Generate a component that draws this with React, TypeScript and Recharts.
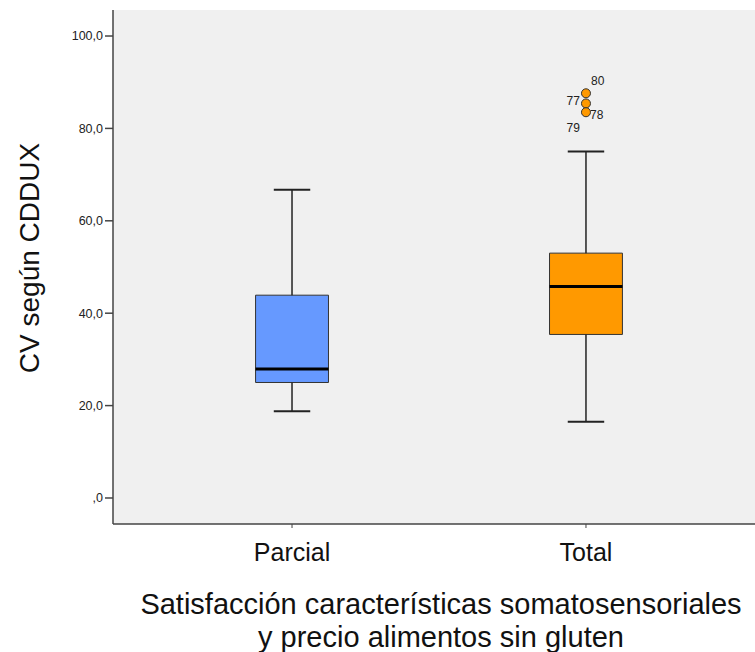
import React from 'react'
import {
  ComposedChart,
  XAxis,
  YAxis,
  CartesianGrid,
  Scatter,
  ReferenceArea,
  ReferenceLine,
} from 'recharts'

// box plot summary per group
const categories = ['Parcial', 'Total']
const categoryPos = [1, 2]
const whiskerLow = [18.8, 16.5]
const q1 = [25.0, 35.4]
const median = [27.9, 45.8]
const q3 = [43.9, 53.0]
const whiskerHigh = [66.7, 75.0]
const boxColors = ['#6699FF', '#FF9900']

// outliers of the "Total" group
const outlierIds = ['80', '77', '78', '79']
const outlierValues = [87.6, 85.4, 83.5, 83.5]
const outlierGroup = [2, 2, 2, 2]

const yTicks = [0, 20, 40, 60, 80, 100]

const FONT = '"Liberation Sans", Arial, sans-serif'
const BOX_HALF = 0.124
const CAP_HALF = 0.062

// where each outlier's id is written, relative to its circle
const labelOffset: Record<string, { dx: number; dy: number; anchor: string }> = {
  '80': { dx: 5, dy: -8, anchor: 'start' },
  '77': { dx: -6, dy: 2, anchor: 'end' },
  '78': { dx: 4, dy: 7, anchor: 'start' },
  '79': { dx: -6, dy: 20, anchor: 'end' },
}

const outlierData = outlierIds.map((id, i) => ({
  x: outlierGroup[i],
  y: outlierValues[i],
  id,
}))

const OutlierDot = (props: any) => {
  const { cx, cy, payload } = props
  const off = labelOffset[payload.id]
  return (
    <g>
      {payload.id !== '79' && (
        <circle cx={cx} cy={cy} r={4.5} fill="#FF9900" stroke="#333" strokeWidth={1} />
      )}
      <text
        x={cx + off.dx}
        y={cy + off.dy}
        textAnchor={off.anchor}
        fontSize={12}
        fontFamily={FONT}
        fill="#222"
      >
        {payload.id}
      </text>
    </g>
  )
}

const fmtY = (v: number) => (v === 0 ? ',0' : `${v},0`)

export default function App() {
  return (
    <div style={{ position: 'absolute', left: 0, top: 0, background: '#fff' }}>
      <ComposedChart
        width={755}
        height={652}
        margin={{ top: 10, right: 0, bottom: 0, left: 0 }}
      >
        <CartesianGrid fill="#F0F0F0" horizontal={false} vertical={false} />
        <XAxis
          xAxisId="top"
          orientation="top"
          type="number"
          domain={[0.391, 2.575]}
          allowDataOverflow
          height={0}
          tick={false}
          tickLine={false}
          axisLine={{ stroke: '#444', strokeWidth: 1.5 }}
        />
        <XAxis
          type="number"
          dataKey="x"
          domain={[0.391, 2.575]}
          allowDataOverflow
          ticks={categoryPos}
          tickFormatter={(v: number) => categories[v - 1]}
          height={128}
          tickSize={4}
          tickMargin={15}
          axisLine={{ stroke: '#444', strokeWidth: 1.5 }}
          tickLine={{ stroke: '#444' }}
          tick={{ fill: '#111', fontSize: 25, fontFamily: FONT }}
          label={{
            content: (p: any) => {
              const vb = p.viewBox
              const cx = vb.x + vb.width / 2 + 7
              return (
                <text textAnchor="middle" fontSize={29} fontFamily={FONT} fill="#111">
                  <tspan x={cx} y={vb.y + 90}>Satisfacción características somatosensoriales</tspan>
                  <tspan x={cx} y={vb.y + 123}>y precio alimentos sin gluten</tspan>
                </text>
              )
            },
          }}
        />
        <YAxis
          type="number"
          domain={[-5.63, 105.63]}
          ticks={yTicks}
          tickFormatter={fmtY}
          width={113}
          tickSize={8}
          tickMargin={2}
          axisLine={{ stroke: '#444', strokeWidth: 1.5 }}
          tickLine={{ stroke: '#444', strokeWidth: 1.5 }}
          tick={{ fill: '#222', fontSize: 12.5, fontFamily: FONT }}
          label={{
            content: (p: any) => {
              const vb = p.viewBox
              const cy = vb.y + vb.height / 2 - 9
              return (
                <text
                  x={29}
                  y={cy}
                  transform={`rotate(-90, 29, ${cy})`}
                  textAnchor="middle"
                  dominantBaseline="central"
                  fontSize={28}
                  fontFamily={FONT}
                  fill="#111"
                >
                  CV según CDDUX
                </text>
              )
            },
          }}
        />

        {categoryPos.map((c, i) => (
          <ReferenceLine
            key={`wl${i}`}
            segment={[{ x: c, y: whiskerLow[i] }, { x: c, y: q1[i] }]}
            stroke="#222"
            strokeWidth={1.5}
          />
        ))}
        {categoryPos.map((c, i) => (
          <ReferenceLine
            key={`wh${i}`}
            segment={[{ x: c, y: q3[i] }, { x: c, y: whiskerHigh[i] }]}
            stroke="#222"
            strokeWidth={1.5}
          />
        ))}
        {categoryPos.map((c, i) => (
          <ReferenceLine
            key={`cl${i}`}
            segment={[{ x: c - CAP_HALF, y: whiskerLow[i] }, { x: c + CAP_HALF, y: whiskerLow[i] }]}
            stroke="#222"
            strokeWidth={2}
          />
        ))}
        {categoryPos.map((c, i) => (
          <ReferenceLine
            key={`ch${i}`}
            segment={[{ x: c - CAP_HALF, y: whiskerHigh[i] }, { x: c + CAP_HALF, y: whiskerHigh[i] }]}
            stroke="#222"
            strokeWidth={2}
          />
        ))}
        {categoryPos.map((c, i) => (
          <ReferenceArea
            key={`box${i}`}
            x1={c - BOX_HALF}
            x2={c + BOX_HALF}
            y1={q1[i]}
            y2={q3[i]}
            fill={boxColors[i]}
            fillOpacity={1}
            stroke="#333"
            strokeWidth={1}
          />
        ))}
        {categoryPos.map((c, i) => (
          <ReferenceLine
            key={`med${i}`}
            segment={[{ x: c - BOX_HALF, y: median[i] }, { x: c + BOX_HALF, y: median[i] }]}
            stroke="#000"
            strokeWidth={3}
          />
        ))}

        <Scatter
          data={outlierData}
          dataKey="y"
          shape={<OutlierDot />}
          isAnimationActive={false}
        />
      </ComposedChart>
    </div>
  )
}
